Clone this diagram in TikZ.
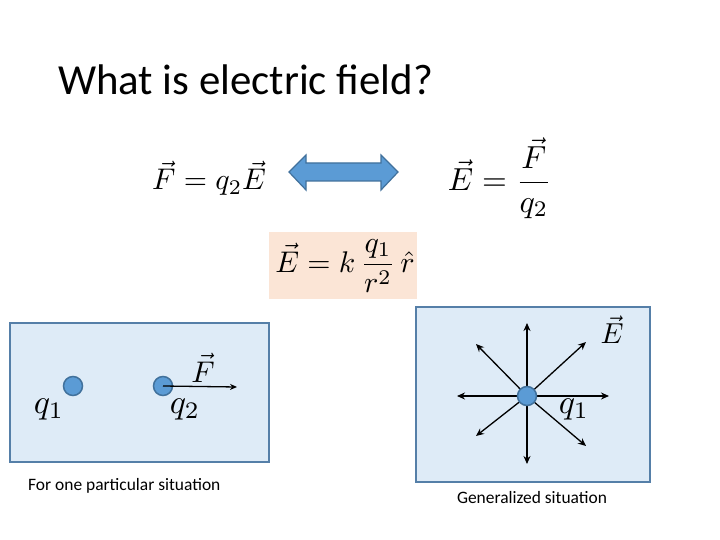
\documentclass[tikz,border=0pt]{standalone}
\usepackage{amsmath}
\usepackage{graphicx}
\usepackage{fontspec}
\setmainfont{Carlito}
\usetikzlibrary{arrows.meta}
\definecolor{boxfill}{HTML}{DEEBF7}
\definecolor{boxline}{HTML}{557FA8}
\definecolor{chargefill}{HTML}{5B9BD5}
\definecolor{chargeline}{HTML}{41719C}
\definecolor{peach}{HTML}{FBE5D6}
\newcommand{\mathat}[2]{\scalebox{#1}{$\displaystyle #2$}}
\tikzset{
  panel/.style={draw=boxline, fill=boxfill, line width=1.5bp},
  charge/.style={circle, draw=chargeline, fill=chargefill, line width=1.5bp, minimum size=19bp, inner sep=0},
  mathnode/.style={font=\fontsize{10}{12}\selectfont, inner sep=0},
  caption/.style={font=\fontsize{17.5}{21}\selectfont, inner sep=0},
  field/.style={-{Stealth[length=8bp,width=7bp]}, line width=1.3bp, black},
}
\begin{document}
\begin{tikzpicture}[x=1bp, y=-1bp]
\useasboundingbox (0,0) rectangle (720,540);
\fill[white] (0,0) rectangle (720,540);
% title
\node[anchor=base west, inner sep=0, font=\fontsize{43}{50}\selectfont] (title) at (58,95) {What is electric field?};
% equations
\node[mathnode, anchor=base west] (eqF) at (152,190) {\mathat{3.0}{\vec{F}=q_2\vec{E}}};
\node[mathnode] (eqE) at (500,178) {\mathat{3.2}{\vec{E}=\frac{\vec{F}}{q_2}}};
\fill[peach] (269,232) rectangle (417,299);
\node[mathnode] (eqK) at (345,266) {\mathat{3.0}{\vec{E}=k\,\frac{q_1}{r^2}\,\hat{r}}};
% double arrow
\draw[fill=chargefill, draw=chargeline, line width=1.2bp]
  (289,172) -- (306,155) -- (306,163) -- (381,163) -- (381,155) -- (398,172)
  -- (381,190) -- (381,181) -- (306,181) -- (306,190) -- cycle;
% left panel
\draw[panel] (10,323) rectangle (269,462);
\node[charge] (q1) at (73,386) {};
\node[charge] (q2) at (163,386) {};
\coordinate (Ftip) at (237,387);
\draw[line width=1.3bp, -{Stealth[length=7bp,width=6bp]}] (q2.center) -- (Ftip);
\node[mathnode] (Flbl) at (203,368) {\mathat{3.0}{\vec{F}}};
\node[mathnode] (q1lbl) at (49,409) {\mathat{3.4}{q_1}};
\node[mathnode] (q2lbl) at (185,409) {\mathat{3.4}{q_2}};
\node[caption, anchor=base west] (cap1) at (28,490) {For one particular situation};
% right panel
\draw[panel] (416,307) rectangle (650,482);
\coordinate (tN) at (527,323);
\coordinate (tS) at (527,464);
\coordinate (tW) at (457,396);
\coordinate (tE) at (609,396);
\coordinate (tNW) at (476,344);
\coordinate (tNE) at (586,342);
\coordinate (tSW) at (476,436);
\coordinate (tSE) at (586,446);
\coordinate (ctr) at (527,396);
\foreach \t in {tN,tS,tW,tE,tNW,tNE,tSW,tSE}
  \draw[field] (ctr) -- (\t);
\node[charge] (q1r) at (ctr) {};
\node[mathnode] (Elbl) at (612,330) {\mathat{2.9}{\vec{E}}};
\node[mathnode] (q1rlbl) at (574,409) {\mathat{3.4}{q_1}};
\node[caption] (cap2) at (532,498) {Generalized situation};
\end{tikzpicture}
\end{document}
